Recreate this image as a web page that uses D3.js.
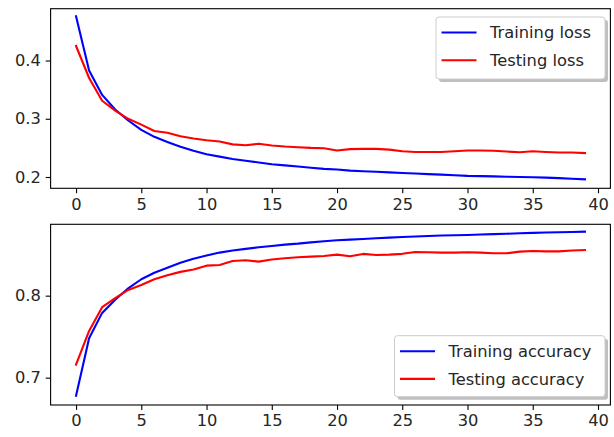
<!DOCTYPE html>
<html>
<head>
<meta charset="utf-8">
<script src="https://cdn.jsdelivr.net/npm/d3@7"></script>
<style>
  html, body { margin: 0; padding: 0; background: #fff; }
  svg { display: block; }
  text { font-family: "DejaVu Sans", sans-serif; fill: #262626; }
</style>
</head>
<body>
<svg id="chart" width="614" height="437"></svg>
<script>
// ---------- data ----------
const epochs = d3.range(0, 40);
const trainingLoss = [0.476, 0.383, 0.341, 0.316, 0.297, 0.281, 0.269, 0.260, 0.252, 0.245,
  0.239, 0.235, 0.231, 0.228, 0.225, 0.222, 0.220, 0.218, 0.216, 0.214,
  0.213, 0.211, 0.210, 0.209, 0.208, 0.207, 0.206, 0.205, 0.204, 0.203,
  0.202, 0.2015, 0.201, 0.2005, 0.200, 0.1995, 0.199, 0.198, 0.197, 0.196];
const testingLoss = [0.425, 0.370, 0.331, 0.314, 0.300, 0.290, 0.279, 0.276, 0.270, 0.266,
  0.263, 0.261, 0.256, 0.2546, 0.257, 0.254, 0.2523, 0.2512, 0.250, 0.2495,
  0.2454, 0.2478, 0.2483, 0.2483, 0.247, 0.2443, 0.243, 0.243, 0.243, 0.2443,
  0.2454, 0.2454, 0.245, 0.2437, 0.2426, 0.2443, 0.243, 0.242, 0.242, 0.241];
const trainingAcc = [0.678, 0.748, 0.779, 0.795, 0.809, 0.820, 0.828, 0.834, 0.840, 0.845,
  0.849, 0.8525, 0.855, 0.857, 0.859, 0.8606, 0.8622, 0.8634, 0.865, 0.8663,
  0.8675, 0.8683, 0.869, 0.870, 0.8707, 0.8716, 0.8722, 0.8728, 0.8733, 0.8737,
  0.874, 0.8745, 0.875, 0.8755, 0.876, 0.8765, 0.877, 0.8773, 0.8777, 0.878];
const testingAcc = [0.716, 0.757, 0.786, 0.797, 0.807, 0.813, 0.820, 0.825, 0.829, 0.832,
  0.8366, 0.8374, 0.8423, 0.8431, 0.8415, 0.844, 0.8456, 0.8468, 0.8476, 0.8484,
  0.850, 0.848, 0.8509, 0.8496, 0.850, 0.851, 0.8533, 0.853, 0.8525, 0.8525,
  0.853, 0.8525, 0.8517, 0.8517, 0.8537, 0.8545, 0.854, 0.854, 0.855, 0.8557];
const xTicks = [0, 5, 10, 15, 20, 25, 30, 35, 40];
const lossTicks = [0.2, 0.3, 0.4];
const accTicks = [0.7, 0.8];
const lossLabels = ["Training loss", "Testing loss"];
const accLabels = ["Training accuracy", "Testing accuracy"];
const colors = ["#0000ff", "#ff0000"];

// ---------- layout ----------
const svg = d3.select("#chart");
const X0 = 50.6, X1 = 610.4;
const panels = [
  { top: 8.7, bottom: 188.3, domain: [0.1806, 0.489], ticks: lossTicks,
    series: [trainingLoss, testingLoss], labels: lossLabels,
    legend: { x: 436, y: 17, w: 169, h: 62 } },
  { top: 224.3, bottom: 405, domain: [0.6667, 0.887], ticks: accTicks,
    series: [trainingAcc, testingAcc], labels: accLabels,
    legend: { x: 394.5, y: 335.7, w: 210.5, h: 61 } }
];

const x = d3.scaleLinear().domain([-1.95, 40.95]).range([X0, X1]);
const fontSize = 16.3;

panels.forEach(p => {
  const y = d3.scaleLinear().domain(p.domain).range([p.bottom, p.top]);
  const g = svg.append("g");

  // lines
  const line = d3.line().x((d, i) => x(epochs[i])).y(d => y(d));
  p.series.forEach((s, k) => {
    g.append("path").datum(s)
      .attr("fill", "none")
      .attr("stroke", colors[k])
      .attr("stroke-width", 2.1)
      .attr("stroke-linejoin", "round")
      .attr("stroke-linecap", "square")
      .attr("d", line);
  });

  // axes
  const xAxis = d3.axisBottom(x).tickValues(xTicks).tickFormat(d3.format("d"))
    .tickSize(4.9).tickPadding(4.9);
  const gx = g.append("g").attr("transform", `translate(0,${p.bottom})`).call(xAxis);
  const yAxis = d3.axisLeft(y).tickValues(p.ticks).tickFormat(d3.format(".1f"))
    .tickSize(4.9).tickPadding(4.9);
  const gy = g.append("g").attr("transform", `translate(${X0},0)`).call(yAxis);
  [gx, gy].forEach(a => {
    a.select(".domain").remove();
    a.selectAll(".tick line").attr("stroke", "#000").attr("stroke-width", 1.1);
    a.selectAll(".tick text").style("font-size", fontSize + "px")
      .style("font-family", "'DejaVu Sans', sans-serif").attr("fill", "#262626");
  });

  // frame
  g.append("rect")
    .attr("x", X0).attr("y", p.top)
    .attr("width", X1 - X0).attr("height", p.bottom - p.top)
    .attr("fill", "none").attr("stroke", "#000").attr("stroke-width", 1.1);

  // legend
  const L = p.legend;
  const lg = svg.append("g");
  lg.append("rect").attr("x", L.x + 3).attr("y", L.y + 3)
    .attr("width", L.w).attr("height", L.h).attr("rx", 3)
    .attr("fill", "#7f7f7f").attr("opacity", 0.5);
  lg.append("rect").attr("x", L.x).attr("y", L.y)
    .attr("width", L.w).attr("height", L.h).attr("rx", 3)
    .attr("fill", "#fff").attr("stroke", "#cccccc").attr("stroke-width", 1);
  p.labels.forEach((lab, k) => {
    const ly = L.y + 15.5 + k * 27.7;
    lg.append("line")
      .attr("x1", L.x + 5.5).attr("x2", L.x + 40.5)
      .attr("y1", ly).attr("y2", ly)
      .attr("stroke", colors[k]).attr("stroke-width", 2.1);
    lg.append("text")
      .attr("x", L.x + 54).attr("y", ly + 5.8)
      .style("font-size", fontSize + "px")
      .text(lab);
  });
});
</script>
</body>
</html>
